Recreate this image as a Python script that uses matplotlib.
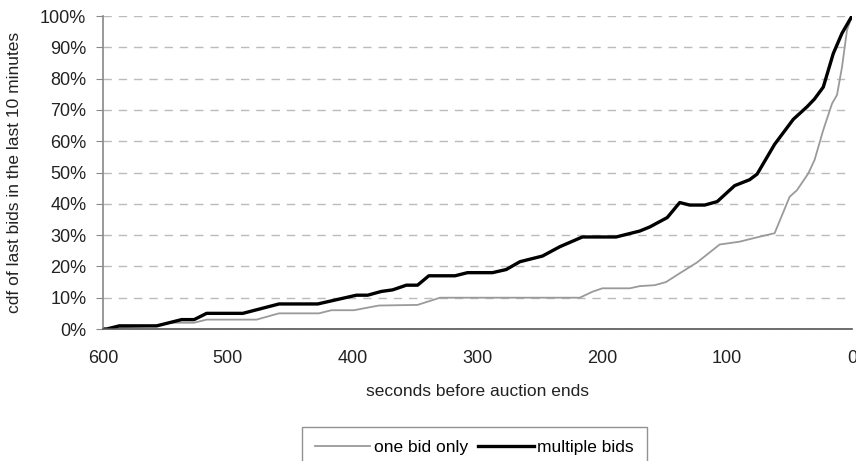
import matplotlib
matplotlib.use("Agg")
import matplotlib.pyplot as plt

plt.rcParams['font.family'] = ['Liberation Sans', 'DejaVu Sans']

# seconds before auction ends
multi_x = [600, 597, 587, 557, 537, 527, 517, 488, 459, 428, 397, 388, 377, 368, 357,
           348, 339, 318, 308, 288, 277, 266, 248, 234, 216, 189, 170, 162, 148, 138,
           130, 118, 108, 94, 82, 76, 62, 47, 36, 30, 23, 15, 8, 0]
multi_y = [0, 0, 1, 1, 3, 3, 5, 5, 8, 8, 10.8, 10.8, 12, 12.5, 14,
           14, 17, 17, 18, 18, 19, 21.5, 23.3, 26.3, 29.4, 29.4, 31.3, 32.6, 35.6, 40.4,
           39.6, 39.6, 40.7, 45.8, 47.7, 49.5, 59, 67, 71, 73.5, 77.3, 88, 94.5, 100]

one_x = [600, 597, 587, 560, 545, 527, 517, 477, 459, 427, 417, 399, 379, 348, 330,
         218, 208, 200, 178, 170, 158, 149, 138, 124, 106, 90, 76, 62, 50, 44,
         35, 30, 23, 16, 12, 8, 4, 0]
one_y = [0, 0, 0.5, 1, 2, 2, 3, 3, 5, 5, 6, 6, 7.5, 7.7, 10,
         10, 11.9, 13, 13, 13.7, 14, 15, 17.8, 21.3, 27, 27.9, 29.3, 30.6, 42.2, 44.4,
         49.7, 54, 63.6, 72, 74.8, 83.7, 95.5, 100]

x_ticks = [600, 500, 400, 300, 200, 100, 0]
y_ticks = [0, 10, 20, 30, 40, 50, 60, 70, 80, 90, 100]
y_labels = [f"{v}%" for v in y_ticks]

fig = plt.figure(figsize=(8.56, 4.61), dpi=100)
ax = fig.add_axes([103/856, 1-329/461, (852-103)/856, (329-16)/461])

ax.plot(one_x, one_y, color='#9a9a9a', lw=1.3, label='one bid only')
ax.plot(multi_x, multi_y, color='black', lw=2.4, label='multiple bids')

ax.set_xlim(600, 0)
ax.set_ylim(0, 100)
ax.set_xticks(x_ticks)
ax.set_xticklabels([str(v) for v in x_ticks])
ax.set_yticks(y_ticks)
ax.set_yticklabels(y_labels)
ax.tick_params(axis='both', labelsize=13, colors='#222222')
ax.tick_params(axis='y', length=5, color='#888888', pad=7)
ax.tick_params(axis='x', length=0, pad=15)

ax.grid(axis='y', linestyle=(0, (6, 5)), color='#bbbbbb', lw=1.0)
ax.set_axisbelow(True)
for s in ['top', 'right']:
    ax.spines[s].set_visible(False)
ax.spines['left'].set_color('#888888')
ax.spines['bottom'].set_color('#555555')
ax.spines['left'].set_linewidth(1.2)
ax.spines['bottom'].set_linewidth(1.2)

ax.set_xlabel('seconds before auction ends', fontsize=12.5, color='#222222', labelpad=12)
ax.set_ylabel('cdf of last bids in the last 10 minutes', fontsize=12.5, color='#222222', labelpad=13)

leg = fig.legend(loc='upper center', bbox_to_anchor=(474.5/856, 1-427/461), ncol=2,
                 fontsize=12.5, frameon=True, fancybox=False, edgecolor='#777777',
                 handlelength=3.2, handletextpad=0.2, columnspacing=0.6,
                 borderpad=0.75, borderaxespad=0)
leg.get_frame().set_linewidth(1.0)

fig.savefig('out.png', dpi=100)
